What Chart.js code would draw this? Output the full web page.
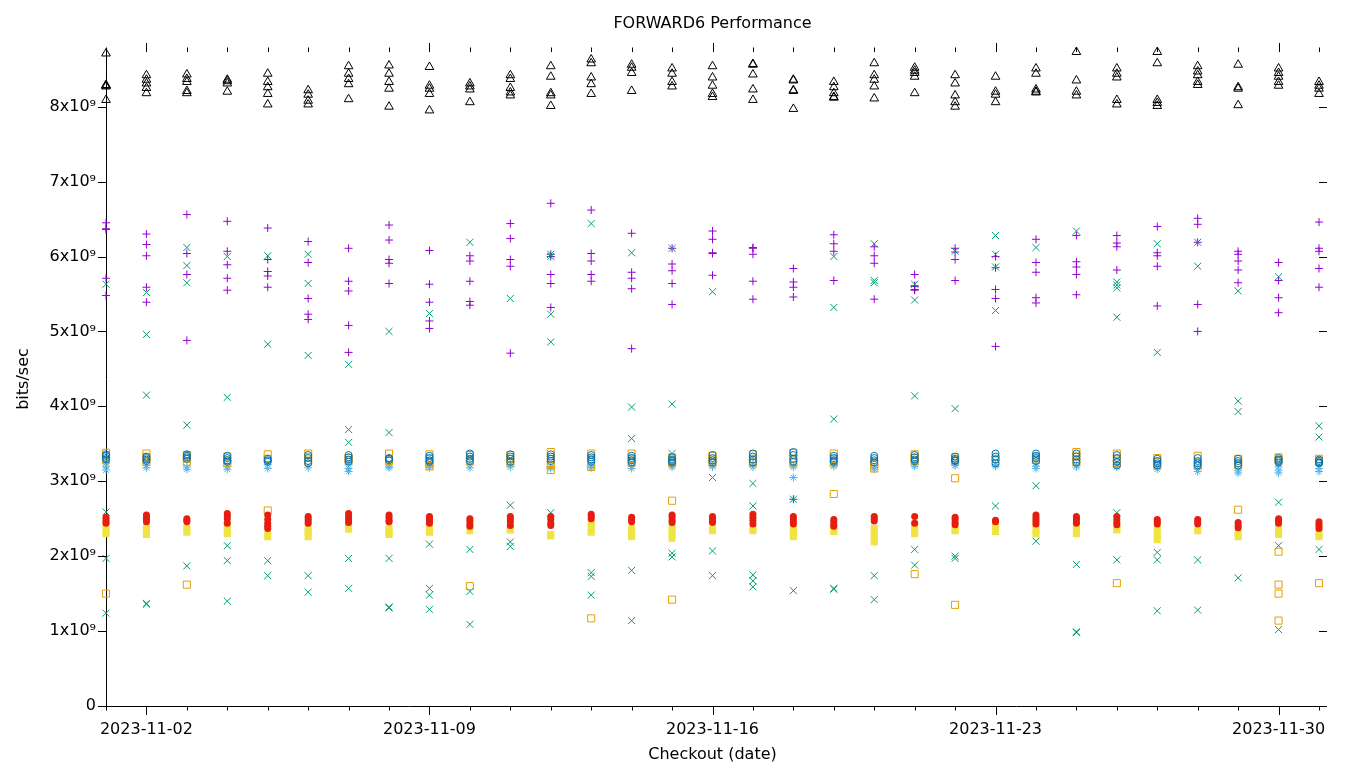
<!DOCTYPE html>
<html>
<head>
<meta charset="utf-8">
<script src="https://cdn.jsdelivr.net/npm/chart.js@4.4.1/dist/chart.umd.min.js"></script>
<style>
  html, body { margin: 0; padding: 0; background: #fff; }
  #wrap { width: 1360px; height: 768px; }
</style>
</head>
<body>
<div id="wrap"><canvas id="chart" width="1360" height="768"></canvas></div>
<script>
// day index 0 = 2023-11-01 ... 30 = 2023-12-01
const dates = [
  "2023-11-01", "2023-11-02", "2023-11-03", "2023-11-04", "2023-11-05", "2023-11-06",
  "2023-11-07", "2023-11-08", "2023-11-09", "2023-11-10", "2023-11-11", "2023-11-12",
  "2023-11-13", "2023-11-14", "2023-11-15", "2023-11-16", "2023-11-17", "2023-11-18",
  "2023-11-19", "2023-11-20", "2023-11-21", "2023-11-22", "2023-11-23", "2023-11-24",
  "2023-11-25", "2023-11-26", "2023-11-27", "2023-11-28", "2023-11-29", "2023-11-30",
  "2023-12-01"
];
const labelDays = [1, 8, 15, 22, 29];
const yTicks = [0, 1, 2, 3, 4, 5, 6, 7, 8]; // x10^9
const chartTitle = "FORWARD6 Performance";

// values in 10^9 bits/sec, one list per day
const purplePlus = [
  [6.45, 6.37, 6.36, 5.71, 5.48], [6.30, 6.16, 6.01, 5.59, 5.39], [6.56, 6.04, 5.76, 4.88],
  [6.47, 6.07, 5.89, 5.71, 5.55], [6.38, 5.96, 5.80, 5.74, 5.59], [6.20, 5.92, 5.44, 5.23, 5.16],
  [6.11, 5.67, 5.54, 5.08, 4.72], [6.42, 6.22, 5.96, 5.91, 5.64], [6.08, 5.63, 5.39, 5.14, 5.04],
  [6.01, 5.94, 5.67, 5.40, 5.35], [6.44, 6.24, 5.96, 5.87, 4.71], [6.71, 6.03, 6.00, 5.76, 5.64, 5.32],
  [6.62, 6.04, 5.94, 5.76, 5.67], [6.31, 5.79, 5.71, 5.57, 4.77], [6.11, 5.90, 5.81, 5.64, 5.36],
  [6.34, 6.23, 6.05, 6.04, 5.75], [6.12, 6.11, 6.03, 5.67, 5.43], [5.84, 5.66, 5.59, 5.46, 2.76],
  [6.29, 6.17, 6.07, 5.68], [6.13, 6.01, 5.91, 5.43], [5.76, 5.61, 5.60, 5.56, 5.55],
  [6.11, 6.06, 5.96, 5.68], [6.00, 5.85, 5.56, 5.44, 4.80], [6.23, 5.92, 5.79, 5.45, 5.38],
  [6.28, 5.93, 5.86, 5.76, 5.49], [6.28, 6.18, 6.13, 5.82], [6.40, 6.05, 6.01, 5.87, 5.34],
  [6.51, 6.43, 6.19, 5.36, 5.00], [6.07, 6.03, 5.94, 5.82, 5.65], [5.92, 5.68, 5.45, 5.25],
  [6.46, 6.11, 6.07, 5.84, 5.59]
];
const greenCross = [
  [5.63, 2.59, 1.97, 1.24], [5.52, 4.96, 4.15, 1.37, 1.36], [6.12, 5.88, 5.65, 3.75, 1.87],
  [6.00, 4.12, 2.14, 1.94, 1.40], [6.01, 4.83, 1.94, 1.74], [6.03, 5.64, 4.68, 1.74, 1.52],
  [4.56, 3.69, 3.52, 1.97, 1.57], [5.00, 3.65, 1.97, 1.32, 1.31], [5.24, 2.16, 1.57, 1.48, 1.29],
  [6.19, 2.09, 1.53, 1.09], [5.44, 2.68, 2.19, 2.13], [6.03, 6.00, 5.23, 4.86, 2.58],
  [6.44, 1.78, 1.73, 1.48], [6.05, 3.99, 3.57, 1.81, 1.14], [6.11, 4.03, 3.37, 2.04, 1.99],
  [5.53, 3.05, 2.07, 1.74], [2.97, 2.67, 1.75, 1.67, 1.59], [2.76, 1.54],
  [6.00, 5.32, 3.83, 1.57, 1.56], [6.17, 5.68, 5.65, 1.74, 1.42], [5.63, 5.42, 4.14, 2.09, 1.88],
  [6.07, 3.97, 2.00, 1.97], [6.28, 6.03, 5.86, 5.28, 2.67], [6.12, 2.94, 2.20],
  [6.34, 1.89, 0.99, 0.98], [5.66, 5.62, 5.58, 5.19, 2.58, 1.95], [6.17, 4.72, 2.05, 1.95, 1.27],
  [6.19, 5.87, 1.95, 1.28], [5.54, 4.07, 3.93, 1.71], [5.73, 2.72, 2.14, 1.02],
  [3.74, 3.59, 2.09]
];
const lightBlueStar = [
  [3.25, 3.20, 3.15], [3.21, 3.18], [3.19, 3.16], [3.20, 3.16], [3.22, 3.17], [3.18],
  [3.22, 3.17, 3.13], [3.20, 3.18], [3.21, 3.18], [3.22, 3.18], [3.22, 3.19], [3.19, 3.17],
  [3.20, 3.18], [3.20, 3.17], [3.21, 3.19], [3.21, 3.19], [3.22, 3.19], [3.21, 3.19, 3.05],
  [3.22, 3.20], [3.19, 3.16], [3.22, 3.20], [3.22, 3.21], [3.22, 3.20], [3.24, 3.20, 3.17],
  [3.21, 3.19], [3.22, 3.19], [3.19, 3.16], [3.16, 3.13], [3.14, 3.11], [3.20, 3.15, 3.11],
  [3.17, 3.13]
];
const orangeSquare = [
  [3.38, 3.33, 3.28, 1.50], [3.37, 3.32, 3.26], [3.35, 3.30, 3.26, 1.62], [3.33, 3.28, 3.24],
  [3.36, 3.30, 2.61], [3.37, 3.32, 3.26], [3.31, 3.28], [3.37, 3.30, 3.27],
  [3.36, 3.30, 3.24, 3.20], [3.35, 3.27, 1.60], [3.35, 3.30, 3.25], [3.39, 3.30, 3.22, 3.15],
  [3.37, 3.30, 3.19, 1.17], [3.37, 3.30, 3.25], [3.32, 3.27, 3.25, 2.74, 1.42], [3.34, 3.29, 3.25],
  [3.36, 3.30, 3.25], [3.38, 3.30, 3.25], [3.37, 3.30, 3.25, 2.83], [3.23, 3.17],
  [3.36, 3.31, 3.27, 1.76], [3.32, 3.28, 3.04, 1.35], [3.30], [3.32, 3.29],
  [3.39, 3.33, 3.26], [3.37, 3.30, 3.24, 1.64], [3.31, 3.26, 3.22], [3.34, 3.25, 3.21],
  [3.30, 3.24, 3.21, 2.62], [3.32, 3.28, 2.06, 1.62, 1.50, 1.14], [3.30, 3.26, 1.64]
];
const yellowSquare = [
  [2.40, 2.34, 2.30], [2.38, 2.33, 2.29], [2.37, 2.32], [2.42, 2.36, 2.30], [2.29, 2.26],
  [2.37, 2.31, 2.26], [2.40, 2.36], [2.37, 2.33, 2.29], [2.37, 2.32], [2.34], [2.36, 2.35],
  [2.29, 2.27], [2.44, 2.38, 2.32], [2.37, 2.31, 2.26], [2.37, 2.30, 2.24], [2.36, 2.34],
  [2.37, 2.34], [2.36, 2.30, 2.26], [2.35, 2.33], [2.37, 2.30, 2.24, 2.19], [2.43, 2.36, 2.30],
  [2.35, 2.34], [2.45, 2.39, 2.33], [2.50, 2.42, 2.35, 2.30], [2.36, 2.30], [2.36, 2.35],
  [2.36, 2.29, 2.22], [2.34], [2.30, 2.26], [2.37, 2.32, 2.29], [2.31, 2.26]
];
const blueCircle = [
  [3.36, 3.34, 3.31, 3.29], [3.33, 3.31, 3.29, 3.27], [3.36, 3.34, 3.32, 3.30], [3.34, 3.31, 3.28, 3.26],
  [3.30, 3.28, 3.26], [3.35, 3.31, 3.27, 3.24], [3.35, 3.32, 3.29, 3.26], [3.31, 3.30, 3.28],
  [3.34, 3.31, 3.28, 3.26], [3.37, 3.33, 3.30, 3.27], [3.36, 3.33, 3.30, 3.26], [3.36, 3.33, 3.30, 3.27],
  [3.35, 3.32, 3.29, 3.26], [3.34, 3.31, 3.28, 3.25], [3.32, 3.29, 3.27, 3.25], [3.35, 3.31, 3.28, 3.25],
  [3.37, 3.33, 3.29, 3.25], [3.39, 3.35, 3.30, 3.26], [3.34, 3.31, 3.28, 3.26], [3.34, 3.31, 3.28, 3.25],
  [3.35, 3.32, 3.29, 3.27], [3.33, 3.30, 3.28, 3.27], [3.37, 3.33, 3.29, 3.24], [3.37, 3.34, 3.31, 3.27],
  [3.37, 3.33, 3.29, 3.25], [3.35, 3.31, 3.26, 3.21], [3.30, 3.27, 3.24, 3.21], [3.31, 3.27, 3.24, 3.21],
  [3.30, 3.27, 3.24, 3.21], [3.31, 3.29, 3.27, 3.25], [3.29, 3.27, 3.25, 3.24]
];
const redCircle = [
  [2.52, 2.49, 2.46, 2.44], [2.55, 2.52, 2.49, 2.46], [2.50, 2.48, 2.46], [2.57, 2.54, 2.50, 2.44],
  [2.55, 2.49, 2.44, 2.40, 2.37], [2.53, 2.50, 2.47, 2.44], [2.57, 2.53, 2.49, 2.45], [2.55, 2.52, 2.48, 2.46],
  [2.53, 2.50, 2.47, 2.44], [2.50, 2.47, 2.43, 2.40], [2.53, 2.50, 2.46, 2.41], [2.53, 2.49, 2.44, 2.41],
  [2.56, 2.53, 2.50], [2.52, 2.49, 2.46], [2.55, 2.52, 2.48, 2.45], [2.53, 2.50, 2.47, 2.45],
  [2.56, 2.52, 2.48, 2.43], [2.53, 2.50, 2.46, 2.43], [2.49, 2.46, 2.42, 2.40], [2.53, 2.50, 2.47],
  [2.53, 2.44], [2.52, 2.49, 2.45, 2.42], [2.48, 2.46], [2.55, 2.51, 2.47, 2.43],
  [2.53, 2.50, 2.47, 2.44], [2.53, 2.49, 2.45, 2.42], [2.49, 2.46, 2.43], [2.49, 2.46, 2.43],
  [2.45, 2.41, 2.38], [2.50, 2.47, 2.44], [2.46, 2.43, 2.40, 2.37]
];
const blackTriangle = [
  [8.71, 8.29, 8.28, 8.27, 8.09], [8.42, 8.36, 8.31, 8.25, 8.18], [8.43, 8.37, 8.33, 8.21, 8.18],
  [8.36, 8.34, 8.31, 8.20], [8.44, 8.33, 8.26, 8.17, 8.03], [8.22, 8.16, 8.08, 8.03],
  [8.54, 8.44, 8.37, 8.30, 8.10], [8.55, 8.44, 8.33, 8.24, 8.00], [8.53, 8.28, 8.24, 8.17, 7.95],
  [8.31, 8.27, 8.23, 8.06], [8.42, 8.37, 8.25, 8.19, 8.15], [8.54, 8.40, 8.18, 8.15, 8.01],
  [8.63, 8.58, 8.39, 8.30, 8.17], [8.56, 8.52, 8.45, 8.21], [8.51, 8.44, 8.33, 8.27],
  [8.54, 8.39, 8.28, 8.17, 8.13], [8.57, 8.56, 8.43, 8.23, 8.09], [8.36, 8.35, 8.22, 8.21, 7.97],
  [8.33, 8.26, 8.18, 8.13, 8.12], [8.58, 8.42, 8.36, 8.27, 8.11], [8.52, 8.48, 8.45, 8.40, 8.18],
  [8.42, 8.31, 8.15, 8.06, 8.00], [8.40, 8.20, 8.16, 8.06], [8.51, 8.44, 8.23, 8.20, 8.19],
  [8.73, 8.35, 8.20, 8.15], [8.51, 8.44, 8.39, 8.09, 8.03], [8.73, 8.58, 8.09, 8.05, 8.01],
  [8.54, 8.47, 8.42, 8.33, 8.29], [8.56, 8.26, 8.24, 8.02], [8.51, 8.45, 8.40, 8.33, 8.28],
  [8.33, 8.28, 8.24, 8.17]
];

const FONT = "'DejaVu Sans', sans-serif";

function toPoints(perDay) {
  const pts = [];
  perDay.forEach((vals, day) => vals.forEach(v => pts.push({ x: day, y: v * 1e9 })));
  return pts;
}

// gnuplot-like series, later ones drawn on top
const series = [
  { data: purplePlus, style: "cross", r: 4, color: "#9400d3", fill: false },
  { data: greenCross, style: "crossRot", r: 5, color: "#009e73", fill: false },
  { data: lightBlueStar, style: "star", r: 4, color: "#56b4e9", fill: false },
  { data: orangeSquare, style: "rect", r: 5, color: "#e69f00", fill: false },
  { data: yellowSquare, style: "rect", r: 5, color: "#f0e442", fill: true },
  { data: blueCircle, style: "circle", r: 3.5, color: "#0072b2", fill: false },
  { data: redCircle, style: "circle", r: 3.5, color: "#e51e10", fill: true },
  { data: blackTriangle, style: "triangle", r: 5, color: "#000000", fill: false }
];

const datasets = series.map((s, i) => ({
  data: toPoints(s.data),
  order: series.length - i,
  pointStyle: s.style,
  pointRadius: s.r,
  pointBorderWidth: s.fill ? 0 : 1,
  pointBorderColor: s.color,
  pointBackgroundColor: s.fill ? s.color : "rgba(0,0,0,0)",
  showLine: false,
  clip: false
}));

// outward tick marks on all four sides (gnuplot "set tics out") and the title over the plot
const decorations = {
  id: "decorations",
  afterDraw(chart) {
    const { ctx, chartArea: a } = chart;
    const xs = chart.scales.x, ys = chart.scales.y;
    ctx.save();
    ctx.strokeStyle = "#000";
    ctx.lineWidth = 1;
    ctx.beginPath();
    dates.forEach((d, i) => {
      const px = Math.round(xs.getPixelForValue(i)) + 0.5;
      const len = labelDays.includes(i) ? 9 : 4.5;
      ctx.moveTo(px, a.bottom);
      ctx.lineTo(px, a.bottom + len);
      ctx.moveTo(px, a.top);
      ctx.lineTo(px, a.top - len);
    });
    yTicks.forEach(t => {
      const py = Math.round(ys.getPixelForValue(t * 1e9)) + 0.5;
      ctx.moveTo(a.left, py);
      ctx.lineTo(a.left - 8, py);
      ctx.moveTo(a.right, py);
      ctx.lineTo(a.right + 8, py);
    });
    ctx.stroke();

    ctx.fillStyle = "#000";
    ctx.font = "16px " + FONT;
    ctx.textAlign = "center";
    ctx.textBaseline = "middle";
    ctx.fillText(chartTitle, (a.left + a.right) / 2, 24);
    ctx.restore();
  }
};

new Chart(document.getElementById("chart"), {
  type: "scatter",
  data: { datasets },
  plugins: [decorations],
  options: {
    responsive: false,
    animation: false,
    devicePixelRatio: 1,
    layout: { padding: { left: 0, right: 41, top: 52, bottom: 0 } },
    plugins: {
      legend: { display: false },
      tooltip: { enabled: false },
      title: { display: false }
    },
    scales: {
      x: {
        type: "linear",
        min: 0,
        max: 30,
        afterFit: s => { s.height = 62; },
        grid: { display: true, drawOnChartArea: false, drawTicks: false },
        border: { display: true, color: "#000", width: 1 },
        ticks: {
          stepSize: 1,
          autoSkip: false,
          maxRotation: 0,
          includeBounds: false,
          padding: 14,
          color: "#000",
          font: { family: FONT, size: 16 },
          callback: v => (labelDays.includes(v) ? dates[v] : "")
        },
        title: {
          display: true,
          text: "Checkout (date)",
          color: "#000",
          font: { family: FONT, size: 16 },
          padding: { top: 0, bottom: 4 }
        }
      },
      y: {
        min: 0,
        max: 8.73e9,
        afterFit: s => { s.width = 106; },
        grid: { display: true, drawOnChartArea: false, drawTicks: false },
        border: { display: true, color: "#000", width: 1 },
        afterBuildTicks: s => { s.ticks = yTicks.map(t => ({ value: t * 1e9 })); },
        ticks: {
          padding: 10,
          color: "#000",
          font: { family: FONT, size: 16 },
          callback: v => (v === 0 ? "0" : Math.round(v / 1e9) + "x10\u2079")
        },
        title: {
          display: true,
          text: "bits/sec",
          color: "#000",
          font: { family: FONT, size: 16 },
          padding: { top: 14, bottom: 0 }
        }
      }
    }
  }
});
</script>
</body>
</html>
